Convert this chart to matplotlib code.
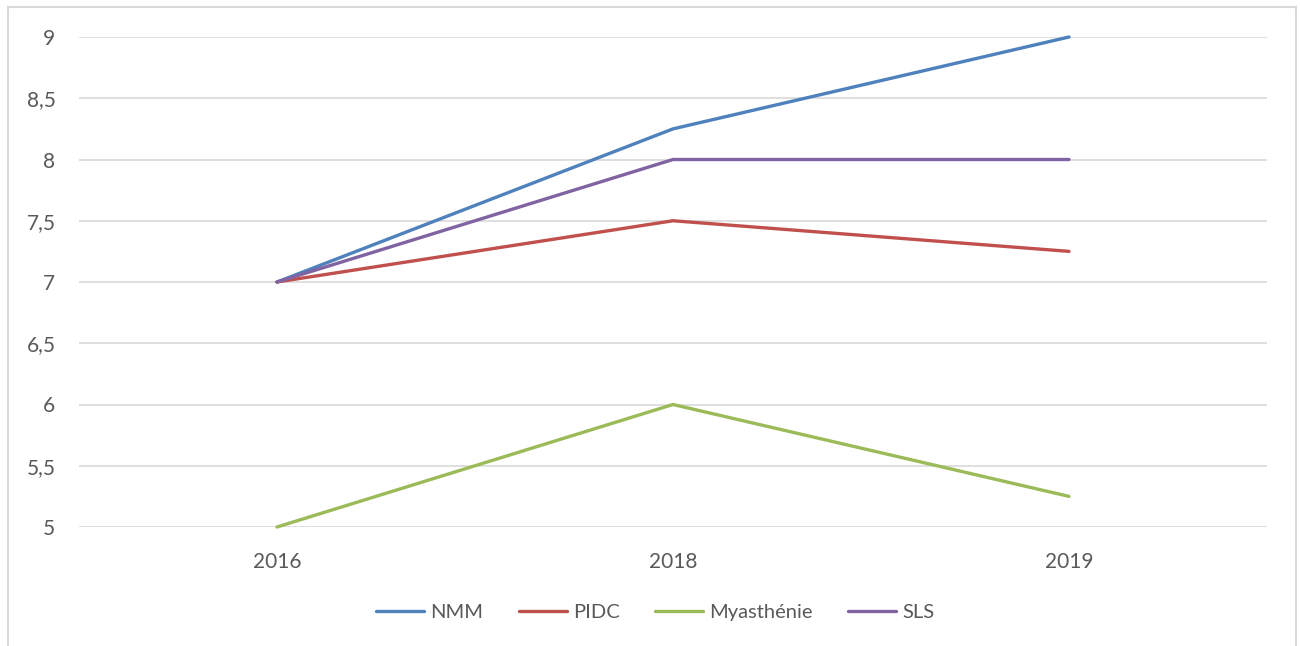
import matplotlib.pyplot as plt
from matplotlib.lines import Line2D

years = ["2016", "2018", "2019"]
nmm = [7, 8.25, 9]
pidc = [7, 7.5, 7.25]
myasthenie = [5, 6, 5.25]
sls = [7, 8, 8]
labels = ["NMM", "PIDC", "Myasthénie", "SLS"]
colors = ["#4F81BD", "#C0504D", "#9BBB59", "#8064A2"]
yticks = [5, 5.5, 6, 6.5, 7, 7.5, 8, 8.5, 9]

plt.rcParams['font.family'] = ['Lato', 'DejaVu Sans']

fig = plt.figure(figsize=(13, 6.46), dpi=100)
ax = fig.add_axes([79/1300, 1-527/646, (1267-79)/1300, (527-37)/646])

x = range(len(years))
for vals, lab, col in zip([nmm, pidc, myasthenie, sls], labels, colors):
    ax.plot(x, vals, color=col, lw=2.4, label=lab, clip_on=False,
            solid_capstyle='round', zorder=3)

ax.set_xlim(-0.5, 2.5)
ax.set_ylim(5, 9)
ax.set_xticks(list(x))
ax.set_xticklabels(years)
ax.set_yticks(yticks)
ax.set_yticklabels([f"{v:g}".replace(".", ",") for v in yticks])
ax.grid(axis='y', color='#D9D9D9', lw=1.2)
ax.set_axisbelow(True)
for s in ax.spines.values():
    s.set_visible(False)
ax.tick_params(length=0, labelsize=15, labelcolor='#595959')
ax.tick_params(axis='y', pad=17)
ax.tick_params(axis='x', pad=18)

fig.legend(loc='center', bbox_to_anchor=(0.504, 1-612/646), ncol=4,
           frameon=False, fontsize=14.5, labelcolor='#595959',
           handlelength=2.4, handletextpad=0.3, columnspacing=1.75)

# chart border (bottom edge falls outside the picture)
bc = '#D9D9D9'
fig.add_artist(Line2D([8/1300, 8/1300], [0, 1-7/646], color=bc, lw=1.5))
fig.add_artist(Line2D([8/1300, 1296/1300], [1-7/646, 1-7/646], color=bc, lw=1.5))
fig.add_artist(Line2D([1296/1300, 1296/1300], [0, 1-7/646], color=bc, lw=1.5))

fig.savefig("out.png", dpi=100)
